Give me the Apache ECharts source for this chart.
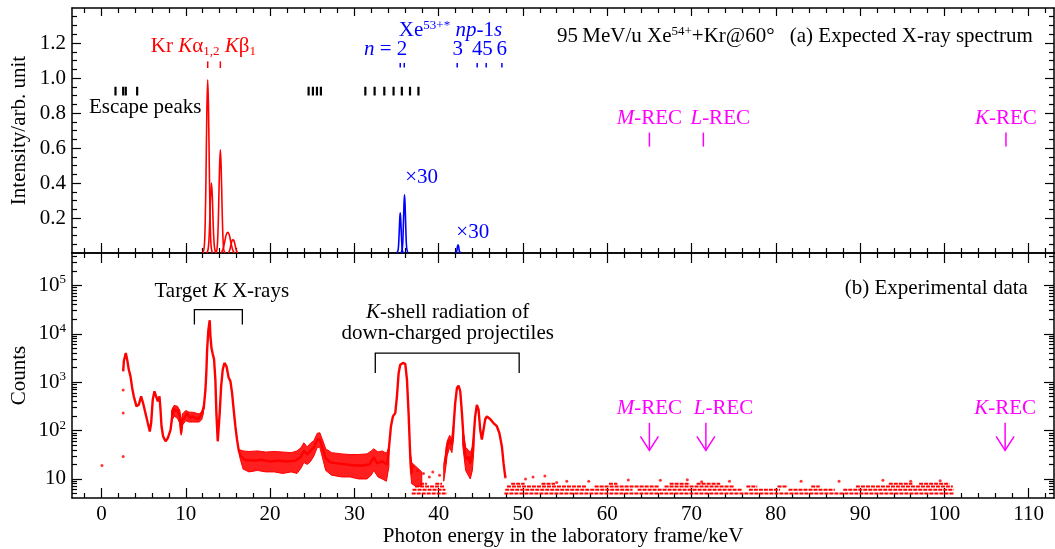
<!DOCTYPE html>
<html><head><meta charset="utf-8">
<script src="https://cdn.jsdelivr.net/npm/echarts@6.0.0/dist/echarts.min.js"></script>
<style>html,body{margin:0;padding:0;background:#fff;}#chart{width:1055px;height:549px;}</style>
</head><body><div id="chart"></div>
<script>
// ===== tick labels =====
const xTickLabels = [0,10,20,30,40,50,60,70,80,90,100,110];
const yTopTickLabels = [0.2,0.4,0.6,0.8,1.0,1.2];
const countDecades = [1,2,3,4,5]; // 10^n

// ===== (a) expected X-ray spectrum: [keV, intensity] =====
const krKa1 = [[12.05,0],[12.2,0.04],[12.3,0.17],[12.4,0.45],[12.5,0.81],[12.6,0.99],[12.7,0.81],[12.8,0.45],[12.9,0.17],[13.0,0.04],[13.15,0]];
const krKa2 = [[12.5,0],[12.64,0.02],[12.74,0.07],[12.84,0.18],[12.94,0.33],[13.04,0.40],[13.14,0.33],[13.24,0.18],[13.34,0.07],[13.44,0.02],[13.6,0]];
const krKb1 = [[13.55,0],[13.7,0.02],[13.8,0.1],[13.9,0.27],[14.0,0.48],[14.1,0.59],[14.2,0.48],[14.3,0.27],[14.4,0.1],[14.5,0.02],[14.65,0]];
const krKb2 = [[14.2,0],[14.4,0.02],[14.6,0.06],[14.8,0.105],[14.98,0.118],[15.15,0.105],[15.35,0.06],[15.55,0.02],[15.75,0]];
const krKb3 = [[15.05,0],[15.2,0.015],[15.35,0.045],[15.5,0.072],[15.6,0.076],[15.7,0.072],[15.85,0.045],[16.0,0.015],[16.15,0]];
const xeN2a = [[35.05,0],[35.2,0.02],[35.3,0.1],[35.38,0.19],[35.44,0.23],[35.5,0.19],[35.58,0.1],[35.68,0.02],[35.8,0]];
const xeN2b = [[35.55,0],[35.7,0.03],[35.8,0.14],[35.88,0.27],[35.95,0.333],[36.02,0.27],[36.1,0.14],[36.2,0.03],[36.35,0]];
const xeN3  = [[42.0,0],[42.15,0.012],[42.22,0.035],[42.3,0.047],[42.38,0.035],[42.45,0.012],[42.6,0]];
const escapePeakE = [1.66,2.57,2.88,4.23,24.57,25.08,25.56,26.03,31.3,32.4,33.55,34.65,35.63,36.6,37.6];
const krLineE = [12.6,14.1];
const xeLineE = [35.44,35.92,42.2,44.57,45.64,47.5];
const recLineE = [65.0,71.4,107.3];
const recArrowE = [65.0,71.7,107.2];

// ===== (b) experimental data: [keV, counts] =====
const expCurve1 = [[2.57,1670],[2.65,2700],[2.88,4000],[3.05,2900],[3.24,1800],[3.44,1320],[3.64,760],[3.83,510],[4.15,317],[4.42,340],[4.70,510],[4.93,370],[5.21,230],[5.49,143],[5.73,96],[5.89,143],[6.08,436],[6.28,646],[6.48,510],[6.68,400],[6.88,510],[7.0,270],[7.12,123],[7.31,76],[7.6,60],[7.87,70],[8.19,104],[8.39,196],[8.58,293],[8.77,250],[9.05,270],[9.28,196],[9.45,89],[9.6,170],[9.84,182],[10.16,230],[10.47,182],[10.75,196],[11.14,182],[11.53,174],[11.85,214],[12.13,293],[12.33,690],[12.45,1800],[12.53,4700],[12.68,12000],[12.84,19000],[12.92,9000],[13.05,5000],[13.2,3800],[13.35,3000],[13.51,1120],[13.63,230],[13.79,60],[14.02,230],[14.19,810],[14.38,1800],[14.58,2500],[14.82,2150],[15.09,1230],[15.29,1050],[15.49,600],[15.68,270],[15.88,123],[16.08,65],[16.27,40],[16.47,30],[17,25],[18,24],[19,25],[20,23],[21,24],[22,23],[23,24],[23.6,28],[24.0,38],[24.4,32],[24.8,38],[25.2,45],[25.6,65],[25.9,66],[26.2,45],[26.55,28],[27.1,22],[28,21],[29,20],[30,19],[31,19],[31.8,20],[32.3,28],[32.7,21],[33.3,23],[33.9,20],[34.05,35],[34.34,123],[34.57,196],[34.85,230],[35.05,510],[35.25,1540],[35.44,2300],[35.6,2500],[35.76,2500],[36.04,2400],[36.24,1120],[36.43,230],[36.63,29],[36.83,13]];
const expCurve2 = [[40.78,21],[40.98,47],[41.3,65],[41.57,51],[41.77,123],[41.96,370],[42.17,760],[42.36,850],[42.56,650],[42.76,230],[42.96,65],[43.15,29],[43.35,25],[43.55,29],[43.74,21],[43.94,29],[44.13,65],[44.33,196],[44.53,340],[44.73,270],[44.93,104],[45.12,65],[45.32,104],[45.52,170],[45.72,196],[46.1,174],[46.5,143],[46.9,123],[47.2,89],[47.5,47],[47.7,21],[47.9,11]];
// noisy bands: [keV, low counts, high counts]
const expBand1 = [[8.3,150,260],[8.6,200,330],[9.0,180,320],[9.3,140,260],[9.45,80,150],[9.6,130,220],[10.0,160,260],[10.4,150,240],[10.8,150,240],[11.2,150,230],[11.6,150,220],[11.9,170,250],[12.1,230,330]];
const expBand2 = [[16.4,28,40],[16.8,16,38],[17.5,14,37],[18.5,15,38],[19.5,14,36],[20.5,14,37],[21.5,13,36],[22.5,14,35],[23.2,13,38],[23.7,17,45],[24.0,22,56],[24.4,20,46],[24.8,23,55],[25.2,30,62],[25.6,45,88],[25.9,45,90],[26.2,28,66],[26.6,15,42],[27.3,12,35],[28.5,11,33],[29.5,11,32],[30.5,10,32],[31.5,10,33],[32.0,12,38],[32.3,15,42],[32.8,11,36],[33.3,10,38],[33.8,9,34],[34.1,18,45]];
const expBand3 = [[36.6,18,40],[36.8,8,22],[37.3,7,18],[38.0,7,14]];
const expBand4 = [[40.6,9,20],[40.8,15,32],[41.0,30,60],[41.3,45,80],[41.57,35,65],[41.8,80,150]];
const expBand5 = [[42.85,50,90],[43.0,30,80],[43.2,15,45],[43.5,12,40],[43.75,10,35],[44.0,15,45],[44.2,45,90]];
// low-count rows: [start keV, end keV] at a fixed count
const expRow5 = [[36.8,41.0],[47.8,101.1]];
const expRow6 = [[36.9,40.8],[47.9,63],[63.6,76],[76.8,80.5],[81.5,87],[88,101.1]];
const expRow7 = [[37.2,40.7],[48.1,57.5],[58.5,66.2],[66.8,75],[76.5,77.8],[80.2,81.4],[84.2,85.2],[89.5,101]];
const expRow8 = [[37.8,38.6],[39.6,40.4],[48.6,50.2],[52.2,53.8],[60.2,61.2],[67.4,69.8],[70.6,73.4],[93.4,96.2],[97,100.6]];
const expSparse = [[0.05,19],[2.57,690],[2.57,230],[2.57,29],[47.9,11],[50.3,10],[51.2,11],[52.6,11.5],[54.0,8.5],[55.2,9],[57.8,9],[62.5,9.5],[66.3,9.4],[69.5,9.6],[71.2,8.8],[74.5,9],[83,9],[87.5,9],[92.7,9.4],[96,9],[99.5,9.2],[37.5,15],[38.2,13],[38.9,11],[39.3,14],[40.1,12],[37.0,18]];

// ===== styling =====
const FONT = 'Liberation Serif';
const FS = 21;
const RED = '#ff0000', BLUE = '#0000ff', MAG = '#ff00ff', BLK = '#000000';
const X_MIN = -3.5, X_MAX = 113, YT_MAX = 1.4, YB_MIN = 0.607, YB_MAX = 5.669;
const lg = v => Math.log10(v);

function rich(color, lh) {
  lh = lh || 24;
  return {
    n: {fontFamily: FONT, fontSize: FS, fill: color, color: color, verticalAlign: 'middle', lineHeight: lh},
    i: {fontFamily: FONT, fontSize: FS, fontStyle: 'italic', fill: color, color: color, verticalAlign: 'middle', lineHeight: lh},
    sup: {fontFamily: FONT, fontSize: 13, fill: color, color: color, verticalAlign: 'top', lineHeight: 13},
    sub: {fontFamily: FONT, fontSize: 13, fill: color, color: color, verticalAlign: 'bottom', lineHeight: 13}
  };
}

// minor tick positions
const xMinor = []; for (let v = -2; v <= 112; v += 2) if (v % 10 !== 0) xMinor.push(v);
const yTopMinor = []; for (let k = 1; k < 28; k++) if (k % 4 !== 0) yTopMinor.push(+(k * 0.05).toFixed(2));
const yTopMajor = []; for (let k = 1; k <= 6; k++) yTopMajor.push(+(k * 0.2).toFixed(1));
const yLogMinor = [];
for (let n = 0; n <= 5; n++) for (let k = 2; k <= 9; k++) { const v = n + Math.log10(k); if (v > YB_MIN && v < YB_MAX) yLogMinor.push(v); }

const axisLine = {show: true, onZero: false, lineStyle: {color: BLK, width: 1.5}};
const noLine = {show: false, onZero: false};
function xAx(grid, pos, ticks, len, extra) {
  return Object.assign({type: 'value', gridIndex: grid, position: pos, min: X_MIN, max: X_MAX,
    axisLine: extra && extra.noLine ? noLine : axisLine,
    axisTick: {show: true, inside: true, length: len, customValues: ticks, lineStyle: {color: BLK, width: 1.2}},
    axisLabel: {show: false}, splitLine: {show: false}, minorTick: {show: false}}, extra && extra.opts || {});
}
function yAx(grid, pos, min, max, ticks, len, extra) {
  return Object.assign({type: 'value', gridIndex: grid, position: pos, min: min, max: max,
    axisLine: extra && extra.noLine ? noLine : axisLine,
    axisTick: {show: true, inside: true, length: len, customValues: ticks, lineStyle: {color: BLK, width: 1.2}},
    axisLabel: {show: false}, splitLine: {show: false}, minorTick: {show: false}}, extra && extra.opts || {});
}
const nameStyle = {fontFamily: FONT, fontSize: FS, color: BLK};
const labelStyle = {fontFamily: FONT, fontSize: FS, color: BLK};

const gridTop = {left: 72, right: 1, top: 8, height: 245, outerBoundsMode: 'none', containLabel: false};
const gridBot = {left: 72, right: 1, top: 253, height: 245, outerBoundsMode: 'none', containLabel: false};

const xAxes = [
  xAx(0, 'bottom', xTickLabels, 10),
  xAx(1, 'bottom', xTickLabels, 10, {opts: {
    axisLabel: Object.assign({show: true, margin: 6, customValues: xTickLabels, formatter: v => String(v)}, labelStyle),
    name: 'Photon energy in the laboratory frame/keV', nameLocation: 'middle', nameGap: 28, nameMoveOverlap: false, nameTextStyle: nameStyle}}),
  xAx(0, 'top', xTickLabels, 8),
  xAx(1, 'top', xTickLabels, 10),
  xAx(2, 'bottom', xMinor, 5, {noLine: true}),
  xAx(2, 'top', xMinor, 5, {noLine: true}),
  xAx(3, 'bottom', xMinor, 5, {noLine: true}),
  xAx(3, 'top', xMinor, 5, {noLine: true})
];
const yAxes = [
  yAx(0, 'left', 0, YT_MAX, yTopMajor, 9, {opts: {
    axisLabel: Object.assign({show: true, margin: 6, customValues: yTopTickLabels, formatter: v => v.toFixed(1)}, labelStyle),
    name: 'Intensity/arb. unit', nameLocation: 'middle', nameGap: 42, nameMoveOverlap: false, nameTextStyle: nameStyle}}),
  yAx(1, 'left', YB_MIN, YB_MAX, countDecades, 10, {opts: {
    axisLabel: Object.assign({show: true, margin: 6, customValues: countDecades, lineHeight: 24,
      formatter: v => v === 1 ? '{b|10}' : '{b|10}{s|' + v + '}',
      rich: {b: {fontFamily: FONT, fontSize: FS, color: BLK, lineHeight: 24, verticalAlign: 'middle'},
             s: {fontFamily: FONT, fontSize: 13, color: BLK, lineHeight: 13, verticalAlign: 'top'}}}, labelStyle),
    name: 'Counts', nameLocation: 'middle', nameGap: 42, nameMoveOverlap: false, nameTextStyle: nameStyle}}),
  yAx(0, 'right', 0, YT_MAX, yTopMajor, 9),
  yAx(1, 'right', YB_MIN, YB_MAX, countDecades, 10),
  yAx(2, 'left', 0, YT_MAX, yTopMinor, 5, {noLine: true}),
  yAx(2, 'right', 0, YT_MAX, yTopMinor, 5, {noLine: true}),
  yAx(3, 'left', YB_MIN, YB_MAX, yLogMinor, 5, {noLine: true}),
  yAx(3, 'right', YB_MIN, YB_MAX, yLogMinor, 5, {noLine: true})
];

// ===== series helpers =====
function peakLine(data, color) {
  return {type: 'line', xAxisIndex: 0, yAxisIndex: 0, data: data, smooth: 0.4, symbol: 'none',
    lineStyle: {color: color, width: 1.6}, itemStyle: {color: color}, silent: true, z: 3};
}
function vTicks(xs, y0, y1, color, width) {
  return {type: 'custom', xAxisIndex: 0, yAxisIndex: 0, silent: true, z: 5,
    data: xs.map(x => [x, y0, y1]),
    renderItem: (p, api) => {
      const a = api.coord([api.value(0), api.value(1)]);
      const b = api.coord([api.value(0), api.value(2)]);
      return {type: 'line', shape: {x1: a[0], y1: a[1], x2: b[0], y2: b[1]}, style: {stroke: color, lineWidth: width}};
    }};
}
function texts(xi, yi, items) {
  return {type: 'custom', xAxisIndex: xi, yAxisIndex: yi, silent: true, z: 10,
    data: items.map((t, i) => [t.x, t.y, i]),
    renderItem: (p, api) => {
      const t = items[api.value(2)];
      const c = api.coord([api.value(0), api.value(1)]);
      return {type: 'text', x: c[0], y: c[1], style: {text: t.text, rich: rich(t.color, t.lh),
        align: t.align || 'center', verticalAlign: 'middle', fill: t.color, fontFamily: FONT, fontSize: FS}};
    }};
}
function bandSeries(bands) {
  return {type: 'custom', xAxisIndex: 1, yAxisIndex: 1, silent: true, z: 2,
    data: bands.map((b, i) => [b[0][0], lg(b[0][1]), i]),
    renderItem: (p, api) => {
      const b = bands[api.value(2)];
      const up = b.map(r => api.coord([r[0], lg(r[2])]));
      const lo = b.slice().reverse().map(r => api.coord([r[0], lg(r[1])]));
      return {type: 'polygon', shape: {points: up.concat(lo)}, style: {fill: 'rgba(255,0,0,0.88)', stroke: RED, lineWidth: 1}};
    }};
}
function rowSeries(rows) {
  const data = [];
  rows.forEach(r => r.segs.forEach(s => data.push([s[0], lg(r.c), s[1]])));
  return {type: 'custom', xAxisIndex: 1, yAxisIndex: 1, silent: true, z: 2, data: data,
    renderItem: (p, api) => {
      const a = api.coord([api.value(0), api.value(1)]);
      const b = api.coord([api.value(2), api.value(1)]);
      return {type: 'line', shape: {x1: a[0], y1: a[1], x2: b[0], y2: b[1]}, style: {stroke: RED, lineWidth: 2, lineDash: [4, 1]}};
    }};
}

const topTexts = [
  {x: 12.09, y: 1.18, color: RED, text: '{n|Kr }{i|K}{n|α}{sub|1,2}{n| }{i|K}{n|β}{sub|1}'},
  {x: 5.18, y: 0.833, color: BLK, text: '{n|Escape peaks}'},
  {x: 41.4, y: 1.27, color: BLUE, text: '{n|Xe}{sup|53+*}{n| }{i|np}{n|-1}{i|s}'},
  {x: 36.27, y: 1.162, color: BLUE, align: 'right', text: '{i|n}{n| = 2}'},
  {x: 42.26, y: 1.162, color: BLUE, text: '{n|3}'},
  {x: 44.57, y: 1.162, color: BLUE, text: '{n|4}'},
  {x: 45.8, y: 1.162, color: BLUE, text: '{n|5}'},
  {x: 47.48, y: 1.162, color: BLUE, text: '{n|6}'},
  {x: 54.05, y: 1.236, color: BLK, align: 'left', text: '{n|95\u2009MeV/u Xe}{sup|54+}{n|+Kr@60°}'},
  {x: 110.5, y: 1.236, color: BLK, align: 'right', text: '{n|(a) Expected X-ray spectrum}'},
  {x: 65.0, y: 0.767, color: MAG, text: '{i|M}{n|-REC}'},
  {x: 73.4, y: 0.767, color: MAG, text: '{i|L}{n|-REC}'},
  {x: 107.3, y: 0.767, color: MAG, text: '{i|K}{n|-REC}'},
  {x: 37.97, y: 0.433, color: BLUE, text: '{n|×30}'},
  {x: 44.04, y: 0.116, color: BLUE, text: '{n|×30}'}
];
const botTexts = [
  {x: 14.27, y: 4.87, color: BLK, text: '{n|Target }{i|K}{n| X-rays}'},
  {x: 41.07, y: 4.224, color: BLK, lh: 21, text: '{i|K}{n|-shell radiation of}\n{n|down-charged projectiles}'},
  {x: 109.9, y: 4.93, color: BLK, align: 'right', text: '{n|(b) Experimental data}'},
  {x: 65.0, y: 2.45, color: MAG, text: '{i|M}{n|-REC}'},
  {x: 73.8, y: 2.45, color: MAG, text: '{i|L}{n|-REC}'},
  {x: 107.2, y: 2.45, color: MAG, text: '{i|K}{n|-REC}'}
];
const brackets = [[11.02, 16.71, 4.50, 4.19], [32.48, 49.55, 3.60, 3.19]];

const series = [
  peakLine(krKa1, RED), peakLine(krKa2, RED), peakLine(krKb1, RED), peakLine(krKb2, RED), peakLine(krKb3, RED),
  peakLine(xeN2a, BLUE), peakLine(xeN2b, BLUE), peakLine(xeN3, BLUE),
  vTicks(escapePeakE, 0.90, 0.95, BLK, 2.2),
  vTicks(krLineE, 1.057, 1.095, RED, 1.5),
  vTicks(xeLineE, 1.06, 1.086, BLUE, 1.5),
  vTicks(recLineE, 0.608, 0.688, MAG, 1.5),
  texts(0, 0, topTexts),
  // experimental
  bandSeries([expBand1, expBand2, expBand3, expBand4, expBand5]),
  rowSeries([{c: 5, segs: expRow5}, {c: 6, segs: expRow6}, {c: 7, segs: expRow7}, {c: 8, segs: expRow8}]),
  {type: 'line', xAxisIndex: 1, yAxisIndex: 1, data: expCurve1.map(d => [d[0], lg(d[1])]), symbol: 'none',
    lineStyle: {color: RED, width: 2.4}, silent: true, z: 3},
  {type: 'line', xAxisIndex: 1, yAxisIndex: 1, data: expCurve2.map(d => [d[0], lg(d[1])]), symbol: 'none',
    lineStyle: {color: RED, width: 2.4}, silent: true, z: 3},
  {type: 'scatter', xAxisIndex: 1, yAxisIndex: 1, data: expSparse.map(d => [d[0], lg(d[1])]), symbolSize: 3,
    itemStyle: {color: RED}, silent: true, z: 3},
  {type: 'custom', xAxisIndex: 1, yAxisIndex: 1, silent: true, z: 6, data: brackets,
    renderItem: (p, api) => {
      const a = api.coord([api.value(0), api.value(3)]), b = api.coord([api.value(0), api.value(2)]);
      const c = api.coord([api.value(1), api.value(2)]), d = api.coord([api.value(1), api.value(3)]);
      return {type: 'polyline', shape: {points: [a, b, c, d]}, style: {stroke: BLK, lineWidth: 1.3, fill: 'none'}};
    }},
  {type: 'custom', xAxisIndex: 1, yAxisIndex: 1, silent: true, z: 6, data: recArrowE.map(e => [e, 2.16, 1.59]),
    renderItem: (p, api) => {
      const a = api.coord([api.value(0), api.value(1)]), t = api.coord([api.value(0), api.value(2)]);
      return {type: 'group', children: [
        {type: 'line', shape: {x1: a[0], y1: a[1], x2: t[0], y2: t[1]}, style: {stroke: MAG, lineWidth: 1.5}},
        {type: 'polyline', shape: {points: [[t[0] - 9, t[1] - 14], t, [t[0] + 9, t[1] - 14]]}, style: {stroke: MAG, lineWidth: 1.5, fill: 'none'}}
      ]};
    }},
  texts(1, 1, botTexts)
];

const chart = echarts.init(document.getElementById('chart'), null, {renderer: 'canvas', width: 1055, height: 549});
chart.setOption({
  animation: false,
  backgroundColor: '#ffffff',
  textStyle: {fontFamily: FONT},
  grid: [gridTop, gridBot, Object.assign({}, gridTop), Object.assign({}, gridBot)],
  xAxis: xAxes,
  yAxis: yAxes,
  series: series
});
</script></body></html>
